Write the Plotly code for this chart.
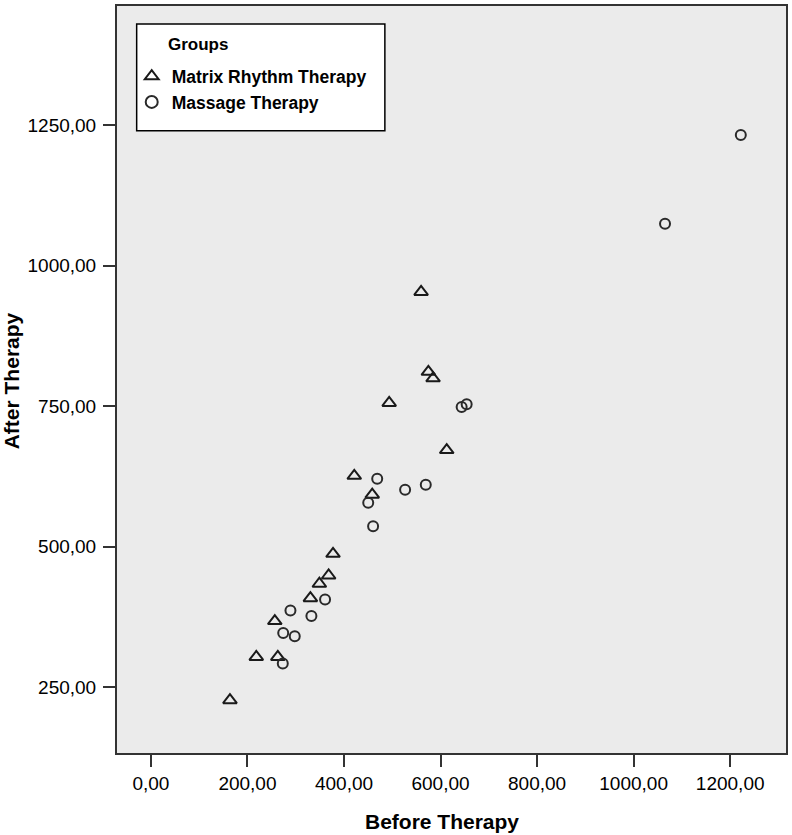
import plotly.graph_objects as go

# Matrix Rhythm Therapy group (triangles)
mrt_before = [559.7, 574.8, 584.5, 493.6, 612.8, 421.3, 458.5, 377.3, 368.2, 349.0, 330.4, 256.7, 218.3, 262.9, 163.8]
mrt_after = [953.0, 811.0, 799.4, 755.6, 671.7, 626.0, 592.4, 487.2, 448.7, 434.0, 408.4, 367.6, 303.8, 303.8, 226.9]

# Massage Therapy group (circles)
mas_before = [1222.0, 1065.0, 643.7, 654.1, 468.8, 526.6, 569.4, 450.2, 460.3, 360.8, 332.5, 289.1, 274.1, 298.0, 273.2]
mas_after = [1232.3, 1074.4, 748.5, 753.3, 620.8, 601.3, 610.1, 578.2, 536.1, 406.1, 376.5, 386.6, 346.3, 340.5, 292.0]

x_ticks = [0, 200, 400, 600, 800, 1000, 1200]
x_tick_labels = ["0,00", "200,00", "400,00", "600,00", "800,00", "1000,00", "1200,00"]
y_ticks = [250, 500, 750, 1000, 1250]
y_tick_labels = ["250,00", "500,00", "750,00", "1000,00", "1250,00"]

FONT = "Liberation Sans, Arial, sans-serif"
INK = "#1a1a1a"

fig = go.Figure()
fig.add_trace(go.Scatter(
    x=mrt_before, y=mrt_after, mode="markers", name="<b>Matrix Rhythm Therapy</b>",
    marker=dict(symbol="triangle-up-open", size=12, color=INK, line=dict(width=2, color=INK)),
))
fig.add_trace(go.Scatter(
    x=mas_before, y=mas_after, mode="markers", name="<b>Massage Therapy</b>",
    marker=dict(symbol="circle-open", size=10, color="#2a2a2a", line=dict(width=2, color="#2a2a2a")),
))

axis_common = dict(
    showgrid=False, zeroline=False, showline=True, mirror=True,
    linecolor="#333333", linewidth=2,
    ticks="outside", ticklen=12, tickwidth=2, tickcolor="#333333",
    tickfont=dict(family=FONT, size=19, color="black"),
)

fig.update_layout(
    width=792, height=835,
    margin=dict(l=117, r=4, t=4, b=82),
    paper_bgcolor="white", plot_bgcolor="#ebebeb",
    xaxis=dict(range=[-70.2, 1315.6], tickvals=x_ticks, ticktext=x_tick_labels,
               ticklabelstandoff=0, **axis_common),
    yaxis=dict(range=[133, 1461.6], tickvals=y_ticks, ticktext=y_tick_labels,
               ticklabelstandoff=3, **axis_common),
    showlegend=True,
    legend=dict(
        x=0.022, y=0.930, xanchor="left", yanchor="top",
        bgcolor="rgba(0,0,0,0)", borderwidth=0,
        font=dict(family=FONT, size=17.5, color="black"),
        itemsizing="constant", tracegroupgap=0,
    ),
    shapes=[dict(type="rect", xref="paper", yref="paper",
                 x0=0.0294, x1=0.4004, y0=0.833, y1=0.976,
                 line=dict(color="black", width=1.5), fillcolor="white", layer="below")],
    annotations=[
        dict(text="<b>Groups</b>", xref="paper", yref="paper", x=0.0730, y=0.948,
             xanchor="left", yanchor="middle", showarrow=False,
             font=dict(family=FONT, size=17, color="black")),
        dict(text="<b>Before Therapy</b>", xref="paper", yref="paper", x=0.4858, y=-0.0921,
             xanchor="center", yanchor="middle", showarrow=False,
             font=dict(family=FONT, size=21, color="black")),
        dict(text="<b>After Therapy</b>", xref="paper", yref="paper", x=-0.1565, y=0.498,
             xanchor="center", yanchor="middle", showarrow=False, textangle=-90,
             font=dict(family=FONT, size=21, color="black")),
    ],
)

fig.write_html("out.html", config={"displayModeBar": False},
               post_script="document.body.style.margin='0';")
